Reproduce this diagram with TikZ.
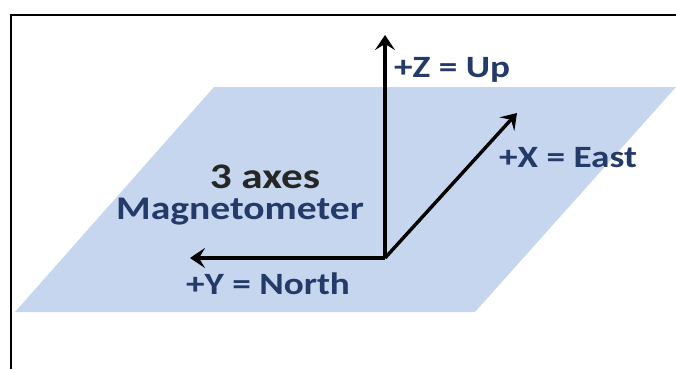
\documentclass[tikz,border=0pt]{standalone}
\usepackage{fontspec}
\setmainfont{Carlito}
\usetikzlibrary{positioning,arrows.meta}
\definecolor{planeblue}{RGB}{197,214,238}
\definecolor{labelnavy}{RGB}{36,58,104}
\definecolor{titlegray}{RGB}{38,38,38}
\newcommand{\widetext}[1]{\scalebox{1.2}[1]{#1}}
\tikzset{
  axis/.style={-{Stealth[length=15pt,width=20pt,inset=6pt]},line width=3.4pt,black},
  axislabel/.style={font=\fontsize{31}{34}\selectfont\bfseries,text=labelnavy,inner sep=0pt}
}

\begin{document}
\begin{tikzpicture}[x=1pt,y=-1pt]
\useasboundingbox (0,0) rectangle (676,369);
% Page frame (top and left rule)
\draw[line width=1.6pt] (11,369) -- (11,15) -- (676,15);
% Ground plane
\fill[planeblue] (15,312) -- (475,312) -- (676,87) -- (214,87) -- cycle;
% Axes
\coordinate (O) at (385,258);
\coordinate (Ztip) at (385,35);
\coordinate (Xtip) at (517,113);
\coordinate (Ytip) at (190,258);
\draw[axis] (O) -- (Ztip);
\draw[axis] (O) -- (Xtip);
\draw[axis] (O) -- (Ytip);
% Axis labels
\node[axislabel,anchor=west] (zlab) at (394,70) {\widetext{+Z = Up}};
\node[axislabel,anchor=west] (xlab) at (499,158) {\widetext{+X = East}};
\node[axislabel] (ylab) at (268,284) {\widetext{+Y = North}};
% Title
\node[font=\fontsize{36}{40}\selectfont\bfseries,text=titlegray,inner sep=0pt] (title) at (265,177) {\widetext{3 axes}};
\node[axislabel,font=\fontsize{33}{36}\selectfont\bfseries] (sensor) at (240,212) {\widetext{Magnetometer}};
\end{tikzpicture}
\end{document}
